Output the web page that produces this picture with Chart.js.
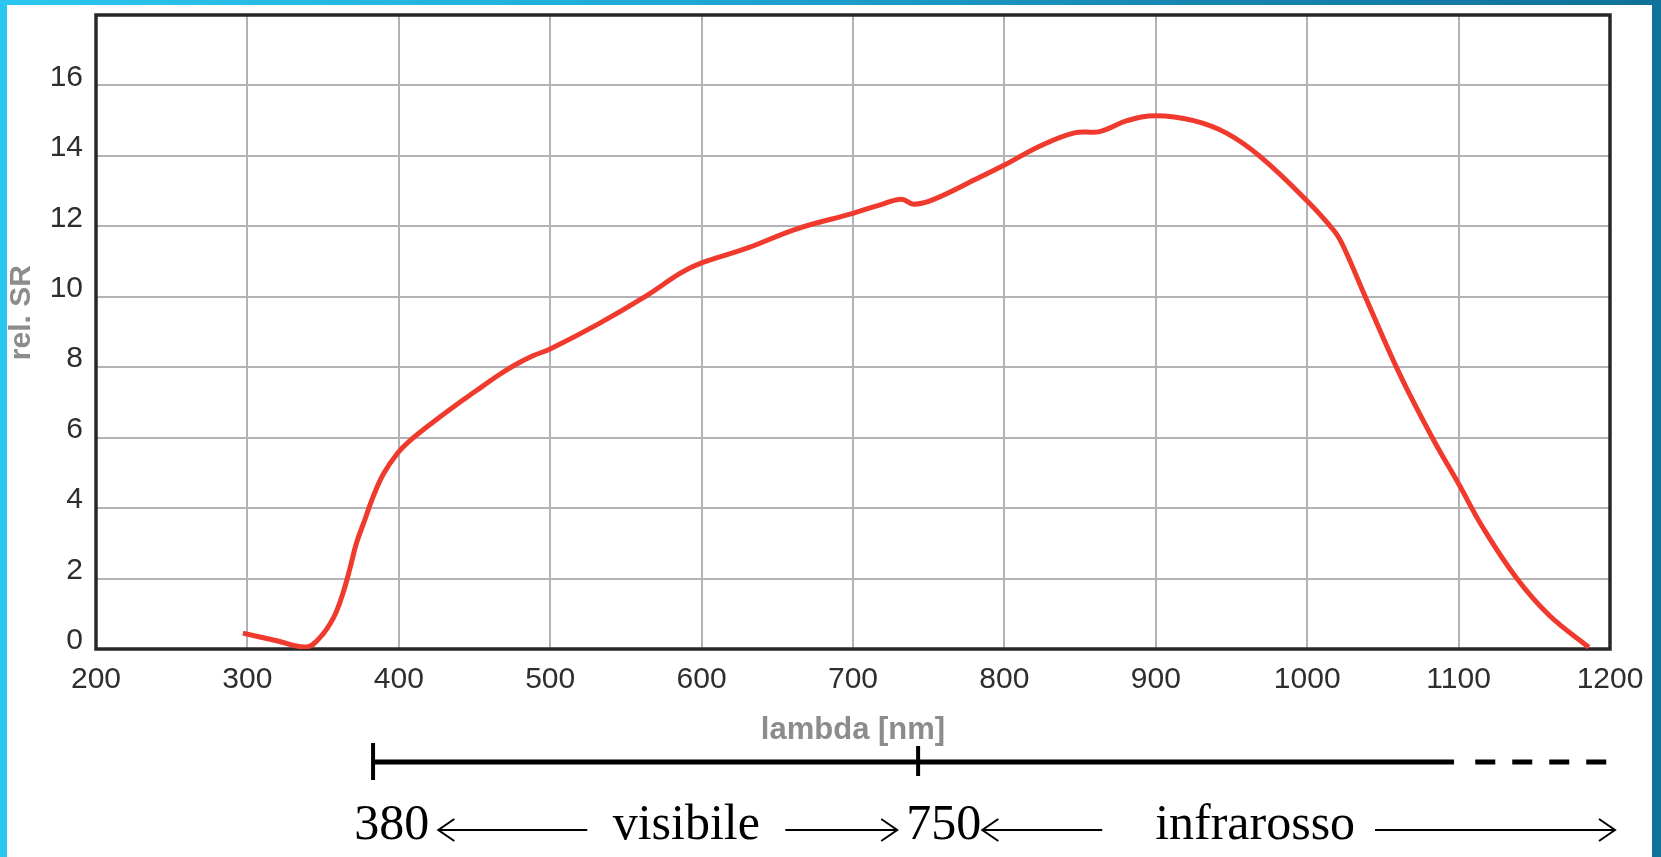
<!DOCTYPE html>
<html>
<head>
<meta charset="utf-8">
<script src="https://cdn.jsdelivr.net/npm/chart.js@4/dist/chart.umd.min.js"></script>
<style>
  html, body {
    margin: 0;
    padding: 0;
    width: 1661px;
    height: 857px;
    overflow: hidden;
    background: linear-gradient(to right, #2bc6ef 0%, #22aedb 35%, #1788b3 70%, #10719a 100%);
  }
  .sheet {
    position: absolute;
    left: 7px;
    top: 5px;
    width: 1645px;
    height: 852px;
    background: #ffffff;
  }
  .holder {
    position: absolute;
    left: 0;
    top: 0;
    width: 1661px;
    height: 857px;
  }
</style>
</head>
<body>
<div class="sheet"></div>
<div class="holder"><canvas id="sr-chart"></canvas></div>

<script>
// spectral response curve
const wavelength = [297, 318, 339, 348, 357, 363, 368, 372, 378, 383, 390, 399, 407, 423, 445,
    455, 466, 477, 489, 500, 531, 564, 586, 600, 630, 663, 700, 718, 732, 740, 753, 784, 800, 825,
    847, 863, 881, 900, 925, 947, 969, 1000, 1018, 1024, 1039, 1061, 1083, 1100, 1116, 1138, 1160, 1186];
const relSR = [0.45, 0.25, 0.06, 0.33, 0.9, 1.57, 2.33, 3.0, 3.72, 4.32, 4.98, 5.55, 5.9, 6.45, 7.15,
    7.45, 7.78, 8.07, 8.33, 8.52, 9.21, 10.04, 10.67, 10.96, 11.38, 11.93, 12.37, 12.61, 12.77, 12.63, 12.76, 13.4, 13.74, 14.31,
    14.66, 14.69, 15.0, 15.14, 15.0, 14.64, 13.98, 12.72, 11.86, 11.42, 9.94, 7.81, 5.97, 4.69, 3.45, 2.03, 0.95, 0.05];

// axis ranges
const xMin = 200, xMax = 1200, xStep = 100;
const yMin = 0, yMax = 18, yStep = 2;
const xTitle = 'lambda [nm]';
const yTitle = 'rel. SR';

// band under the axis: visible / infrared
const bandTicks = [383, 743];
const bandSolidEnd = 1097;
const bandDashStart = 1111;
const bandLabels = ['380', 'visibile', '750', 'infrarosso'];
const bandLabelAt = [395.4, 589.9, 759.9, 965.6];
const arrowFrom = [524.5, 655.3, 864.6, 1044.8];
const arrowTo = [426.1, 729.2, 785.4, 1203.3];

const points = wavelength.map((w, i) => ({ x: w, y: relSR[i] }));

//frame around the plot area + y title (sits a bit above the middle in the original)
const framePlugin = {
    id: 'frame',
    beforeDatasetsDraw(chart) {
        const a = chart.chartArea;
        const ctx = chart.ctx;
        ctx.save();
        ctx.strokeStyle = '#2a2727';
        ctx.lineWidth = 3.5;
        ctx.strokeRect(a.left, a.top, a.right - a.left, a.bottom - a.top);

        ctx.translate(22, chart.scales.y.getPixelForValue(9.55));
        ctx.rotate(-Math.PI / 2);
        ctx.fillStyle = '#8c8c8c';
        ctx.font = 'bold 30px "Liberation Sans", Arial, sans-serif';
        ctx.textAlign = 'center';
        ctx.textBaseline = 'middle';
        ctx.fillText(yTitle, 0, 0);
        ctx.restore();
    }
};

function arrow(ctx, x1, x2, y) {
    const dir = x2 > x1 ? 1 : -1;
    ctx.beginPath();
    ctx.moveTo(x1, y);
    ctx.lineTo(x2, y);
    ctx.moveTo(x2 - dir * 16, y - 11);
    ctx.lineTo(x2, y);
    ctx.lineTo(x2 - dir * 16, y + 11);
    ctx.stroke();
}

// visible / infrared band drawn under the x axis
const bandPlugin = {
    id: 'band',
    afterDraw(chart) {
        const ctx = chart.ctx;
        const x = chart.scales.x;
        const barY = 762;
        ctx.save();
        ctx.strokeStyle = '#000';
        ctx.lineCap = 'butt';

        ctx.lineWidth = 5;
        ctx.beginPath();
        ctx.moveTo(x.getPixelForValue(bandTicks[0]), barY);
        ctx.lineTo(x.getPixelForValue(bandSolidEnd), barY);
        ctx.stroke();

        ctx.setLineDash([20, 17]);
        ctx.beginPath();
        ctx.moveTo(x.getPixelForValue(bandDashStart), barY);
        ctx.lineTo(x.getPixelForValue(xMax), barY);
        ctx.stroke();
        ctx.setLineDash([]);

        ctx.lineWidth = 4;
        bandTicks.forEach((t, i) => {
            const px = x.getPixelForValue(t);
            ctx.beginPath();
            ctx.moveTo(px, i === 0 ? 743 : 746);
            ctx.lineTo(px, i === 0 ? 780 : 776);
            ctx.stroke();
        });

        ctx.fillStyle = '#000';
        ctx.font = '50px "Liberation Serif", "Times New Roman", serif';
        ctx.textAlign = 'center';
        ctx.textBaseline = 'alphabetic';
        bandLabels.forEach((txt, i) => {
            ctx.fillText(txt, x.getPixelForValue(bandLabelAt[i]), 839);
        });

        ctx.lineWidth = 2;
        arrowFrom.forEach((f, i) => {
            arrow(ctx, x.getPixelForValue(f), x.getPixelForValue(arrowTo[i]), 830);
        });
        ctx.restore();
    }
};

const srCanvas = document.getElementById('sr-chart');

const srChart = new Chart(srCanvas, {
    type: 'line',
    data: {
        datasets: [{
            label: yTitle,
            data: points,
            borderColor: '#ef3a2d',
            borderWidth: 5,
            pointRadius: 0,
            fill: false,
            tension: 0.4
        }]
    },
    options: {
        responsive: true,
        maintainAspectRatio: false,
        animation: false,
        layout: {
            padding: { left: 0, top: 15, right: 51, bottom: 97 }
        },
        scales: {
            x: {
                type: 'linear',
                min: xMin,
                max: xMax,
                afterFit: (scale) => {
                    scale.height = 111
                    scale.paddingLeft = 0
                    scale.paddingRight = 0
                },
                ticks: {
                    stepSize: xStep,
                    padding: 13,
                    maxRotation: 0,
                    color: '#2e2e2e',
                    font: { family: '"Liberation Sans", Arial, sans-serif', size: 30 },
                    callback: (v) => String(v)
                },
                grid: { color: '#b3b3b7', lineWidth: 2, drawTicks: false },
                border: { display: false },
                title: {
                    display: true,
                    text: xTitle,
                    color: '#8c8c8c',
                    padding: { top: 0, bottom: 11 },
                    font: { family: '"Liberation Sans", Arial, sans-serif', size: 31, weight: 'bold' }
                }
            },
            y: {
                min: yMin,
                max: yMax,
                afterFit: (scale) => {
                    scale.width = 96
                    scale.paddingTop = 0
                    scale.paddingBottom = 0
                },
                ticks: {
                    stepSize: yStep,
                    padding: 13,
                    labelOffset: -8,
                    color: '#2e2e2e',
                    font: { family: '"Liberation Sans", Arial, sans-serif', size: 30 },
                    callback: (v) => v === yMax ? null : String(v)
                },
                grid: { color: '#b3b3b7', lineWidth: 2, drawTicks: false },
                border: { display: false }
            }
        },
        plugins: {
            legend: { display: false },
            tooltip: { enabled: false }
        }
    },
    plugins: [framePlugin, bandPlugin]
});
</script>
</body>
</html>
